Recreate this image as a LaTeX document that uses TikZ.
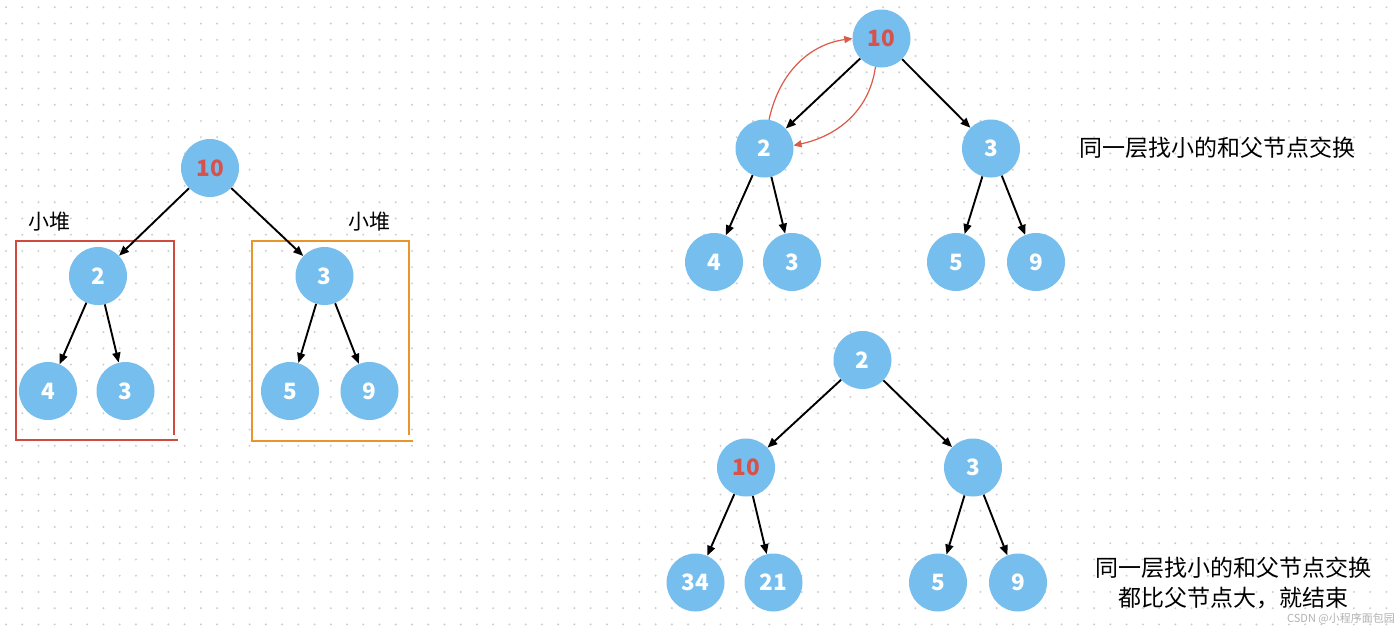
\documentclass[tikz,border=0pt]{standalone}
\usepackage{fontspec}
\setmainfont{Noto Sans CJK SC}
\usetikzlibrary{arrows.meta}
\definecolor{nodeblue}{HTML}{75BEEE}
\definecolor{numred}{HTML}{D6524A}
\definecolor{boxred}{HTML}{D04B3F}
\definecolor{boxorange}{HTML}{E8952C}
\definecolor{swapred}{HTML}{DA5A46}
\definecolor{dotgray}{HTML}{CDCDCD}
\tikzset{
  hnode/.style={circle, fill=nodeblue, minimum size=58pt, inner sep=0pt,
    text=white, font=\fontsize{22.5}{26}\selectfont\bfseries},
  rednum/.style={text=numred},
  edge/.style={line width=1.9pt, black, -{Triangle[length=10pt,width=8pt]}},
  swap/.style={line width=1.2pt, swapred, -{Triangle[length=8pt,width=7pt]}},
  heapbox/.style={line width=1.8pt},
  cjklabel/.style={font=\fontsize{21}{25}\selectfont, text=black},
  note/.style={font=\fontsize{23}{30}\selectfont, text=black, align=center}
}
\begin{document}
\begin{tikzpicture}[x=1pt,y=1pt]
\useasboundingbox (0,0) rectangle (1400,-629);
\fill[white] (0,0) rectangle (1400,-629);
% dot grid
\foreach \i in {0,...,86}{
  \foreach \j in {0,...,38}{
    \fill[dotgray] (6+\i*16.24,-7.3-\j*16.24) circle (1.1pt);
  }
}
% ---------- left tree ----------
\draw[heapbox, boxred] (174,-435) -- (174,-241) -- (16,-241) -- (16,-440) -- (178,-440);
\draw[heapbox, boxorange] (409,-435) -- (409,-241) -- (252,-241) -- (252,-441) -- (413,-441);
\node[cjklabel] (lblL) at (49,-222) {小堆};
\node[cjklabel] (lblR) at (369,-222) {小堆};

\node[hnode, rednum] (a10) at (210,-168) {10};
\node[hnode] (a2) at (98,-276) {2};
\node[hnode] (a3) at (324.5,-276) {3};
\node[hnode] (a4) at (48,-391) {4};
\node[hnode] (a3b) at (125.5,-391) {3};
\node[hnode] (a5) at (290,-391) {5};
\node[hnode] (a9) at (369.5,-391) {9};
\draw[edge] (a10) -- (a2);
\draw[edge] (a10) -- (a3);
\draw[edge] (a2) -- (a4);
\draw[edge] (a2) -- (a3b);
\draw[edge] (a3) -- (a5);
\draw[edge] (a3) -- (a9);

% ---------- top right tree ----------
\node[hnode, rednum] (b10) at (881.5,-38.5) {10};
\node[hnode] (b2) at (764.5,-148.5) {2};
\node[hnode] (b3) at (991,-148.5) {3};
\node[hnode] (b4) at (714,-262) {4};
\node[hnode] (b3b) at (792,-262) {3};
\node[hnode] (b5) at (956,-262) {5};
\node[hnode] (b9) at (1036,-262) {9};
\draw[edge] (b10) -- (b2);
\draw[edge] (b10) -- (b3);
\draw[edge] (b2) -- (b4);
\draw[edge] (b2) -- (b3b);
\draw[edge] (b3) -- (b5);
\draw[edge] (b3) -- (b9);
\draw[swap] (b2.81) to[out=78,in=188] (b10.west);
\draw[swap] (b10.258) to[out=262,in=12] (b2.6);
\node[note] (t1) at (1217,-148) {同一层找小的和父节点交换};

% ---------- bottom right tree ----------
\node[hnode] (c2) at (862.5,-360) {2};
\node[hnode, rednum] (c10) at (746,-467.5) {10};
\node[hnode] (c3) at (973,-467.5) {3};
\node[hnode] (c34) at (695.5,-582.5) {34};
\node[hnode] (c21) at (773.5,-582.5) {21};
\node[hnode] (c5) at (938,-582.5) {5};
\node[hnode] (c9) at (1018,-582.5) {9};
\draw[edge] (c2) -- (c10);
\draw[edge] (c2) -- (c3);
\draw[edge] (c10) -- (c34);
\draw[edge] (c10) -- (c21);
\draw[edge] (c3) -- (c5);
\draw[edge] (c3) -- (c9);
\node[note] (t2) at (1233,-583) {同一层找小的和父节点交换\\都比父节点大，就结束};
\node[font=\fontsize{11}{13}\selectfont, text=black!30] (wm) at (1341,-619) {CSDN @小程序面包园};
\end{tikzpicture}
\end{document}
